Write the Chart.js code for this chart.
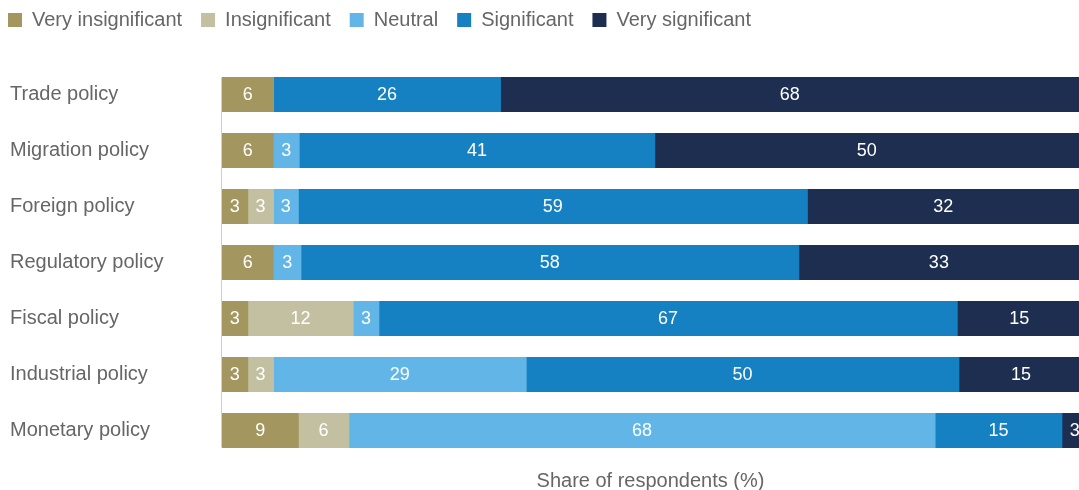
<!DOCTYPE html>
<html><head><meta charset="utf-8">
<script src="https://cdn.jsdelivr.net/npm/chart.js@4/dist/chart.umd.min.js"></script>
<style>html,body{margin:0;padding:0;background:#fff;overflow:hidden}#wrap{width:1079px;height:490px;position:relative}</style>
</head><body><div id="wrap"><canvas id="c"></canvas></div>
<script>
const categories = ['Trade policy','Migration policy','Foreign policy','Regulatory policy','Fiscal policy','Industrial policy','Monetary policy'];
const seriesNames = ['Very insignificant','Insignificant','Neutral','Significant','Very significant'];
const veryInsignificant = [6.0, 6.0, 3.0, 6.0, 3.0, 3.0, 8.9];
const insignificant     = [0,   0,   3.0, 0,   12.3, 3.0, 5.9];
const neutral           = [0,   3.0, 2.9, 3.2, 3.0, 29.49, 68.4];
const significant       = [26.49, 41.49, 59.4, 58.1, 67.49, 50.49, 14.8];
const verySignificant   = [67.5, 49.5, 31.7, 32.7, 14.5, 14.5, 3.0];
const axisTitle = 'Share of respondents (%)';
const seriesColors = ['#a3975f','#c2c0a1','#62b6e7','#1580c2','#1d2e51'];
const textColor = '#666666';

const seriesValues = [veryInsignificant, insignificant, neutral, significant, verySignificant];

const layoutFix = {
  id: 'layoutFix',
  afterLayout(chart) {
    if (chart.legend) { chart.legend.left = -11; chart.legend.top = -9; }
  }
};
const axisLine = {
  id: 'axisLine',
  afterDatasetsDraw(chart) {
    const meta = chart.getDatasetMeta(0);
    const first = meta.data[0], last = meta.data[meta.data.length - 1];
    const ctx = chart.ctx;
    const x = chart.chartArea.left - 0.5;
    ctx.save();
    ctx.strokeStyle = '#cfcfcf';
    ctx.lineWidth = 1;
    ctx.beginPath();
    ctx.moveTo(x, first.y - first.height / 2);
    ctx.lineTo(x, last.y + last.height / 2);
    ctx.stroke();
    ctx.restore();
  }
};
const valueLabels = {
  id: 'valueLabels',
  afterDatasetsDraw(chart) {
    const ctx = chart.ctx;
    ctx.save();
    ctx.font = '18px "Liberation Sans", Arial, sans-serif';
    ctx.fillStyle = '#ffffff';
    ctx.textAlign = 'center';
    ctx.textBaseline = 'middle';
    chart.data.datasets.forEach((ds, i) => {
      const meta = chart.getDatasetMeta(i);
      meta.data.forEach((bar, j) => {
        const v = ds.data[j];
        if (!v) return;
        const p = bar.getProps(['x', 'y', 'base'], true);
        ctx.fillText(String(Math.round(v)), (p.x + p.base) / 2, p.y + 1);
      });
    });
    ctx.restore();
  }
};

Chart.defaults.font.family = '"Liberation Sans", Arial, sans-serif';
Chart.defaults.color = textColor;

new Chart(document.getElementById('c'), {
  type: 'bar',
  data: {
    labels: categories,
    datasets: seriesNames.map((name, i) => ({
      label: name,
      data: seriesValues[i],
      backgroundColor: seriesColors[i],
      borderWidth: 0,
      borderSkipped: false,
      inflateAmount: 0.5,
      barPercentage: 0.607,
      categoryPercentage: 1
    }))
  },
  options: {
    indexAxis: 'y',
    responsive: true,
    maintainAspectRatio: false,
    animation: false,
    devicePixelRatio: 1,
    layout: { padding: { left: 10, top: 17.5, right: 0, bottom: 0 } },
    plugins: {
      legend: {
        display: true,
        position: 'top',
        align: 'start',
        labels: { boxWidth: 14, boxHeight: 14, padding: 19, color: textColor, font: { size: 20 } }
      },
      tooltip: { enabled: false }
    },
    scales: {
      x: {
        type: 'linear', stacked: true, min: 0, max: 100,
        ticks: { display: false },
        grid: { display: false, drawTicks: false },
        border: { display: false },
        title: { display: true, text: axisTitle, color: textColor, font: { size: 20 }, padding: { top: 10.5, bottom: -3 } }
      },
      y: {
        stacked: true,
        ticks: { color: textColor, font: { size: 20 }, crossAlign: 'far', padding: 0 },
        grid: { display: false, drawTicks: false },
        border: { display: false },
        afterFit(s) { s.width = 212; }
      }
    }
  },
  plugins: [layoutFix, axisLine, valueLabels]
});
</script>
</body></html>
